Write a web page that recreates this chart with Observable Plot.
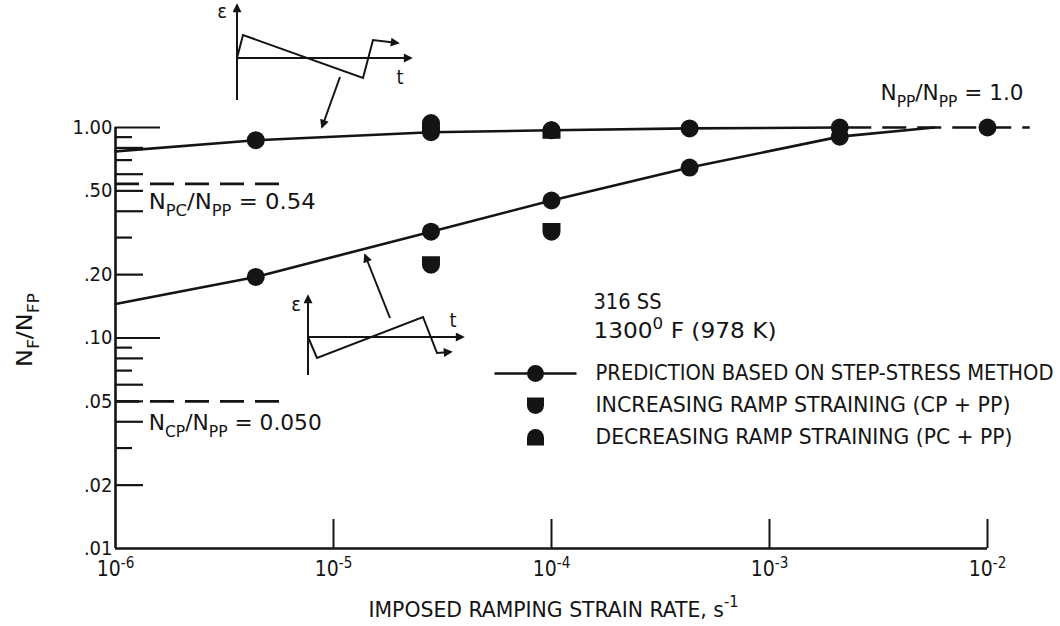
<!DOCTYPE html>
<html><head><meta charset="utf-8">
<script src="https://cdn.jsdelivr.net/npm/d3@7"></script>
<script src="https://cdn.jsdelivr.net/npm/@observablehq/plot@0.6"></script>
<style>
html,body{margin:0;padding:0;background:#fff;}
#chart{width:1060px;height:626px;}
</style></head>
<body><div id="chart"></div>
<script>
// ---------------- data ----------------
const xTicks = [1e-6, 1e-5, 1e-4, 1e-3, 1e-2];
const xTickLabels = ["10^{-6}", "10^{-5}", "10^{-4}", "10^{-3}", "10^{-2}"];
const yMajor = [1, 0.5, 0.2, 0.1, 0.05, 0.02, 0.01];
const yMajorLabels = ["1.00", ".50", ".20", ".10", ".05", ".02", ".01"];
const yTickLong = [1, 0.1];
const yTickMed = [0.8, 0.6, 0.5, 0.4, 0.2, 0.08, 0.06, 0.05, 0.04, 0.02];
const yTickShort = [0.9, 0.7, 0.3, 0.09, 0.07, 0.03];

// prediction (step-stress) curves
const pcCurveRate = [1e-6, 4.4e-6, 2.8e-5, 1e-4, 4.3e-4, 2.1e-3];
const pcCurveNf   = [0.77, 0.87, 0.95, 0.97, 0.99, 1.0];
const cpCurveRate = [1e-6, 4.4e-6, 2.8e-5, 1e-4, 4.3e-4, 2.1e-3, 5.7e-3];
const cpCurveNf   = [0.145, 0.195, 0.32, 0.45, 0.645, 0.905, 1.0];
// prediction points
const pcPointRate = [4.4e-6, 2.8e-5, 1e-4, 4.3e-4, 2.1e-3, 1e-2];
const pcPointNf   = [0.87, 0.95, 0.97, 0.99, 1.0, 1.0];
const cpPointRate = [4.4e-6, 2.8e-5, 1e-4, 4.3e-4, 2.1e-3];
const cpPointNf   = [0.195, 0.32, 0.45, 0.645, 0.905];
// experiments
const incRate = [2.8e-5, 1e-4];
const incNf   = [0.223, 0.32];
const decRate = [2.8e-5, 1e-4];
const decNf   = [1.05, 0.97];
// limits
const limitPC = 0.54, limitCP = 0.050, limitPP = 1.0;
const limitPCRange = [1e-6, 6.35e-6];
const limitCPRange = [1e-6, 5.7e-6];
const limitPPRange = [2.1e-3, 1.57e-2];

const legendItems = [
  "PREDICTION BASED ON STEP-STRESS METHOD",
  "INCREASING RAMP STRAINING (CP + PP)",
  "DECREASING RAMP STRAINING (PC + PP)"
];
const materialText = ["316 SS", "1300^{0} F (978 K)"];
const limitLabels = ["N_{PC}/N_{PP} = 0.54", "N_{CP}/N_{PP} = 0.050", "N_{PP}/N_{PP} = 1.0"];
const xTitle = "IMPOSED RAMPING STRAIN RATE, s^{-1}";
const yTitle = "N_{F}/N_{FP}";

// ---------------- layout ----------------
const W = 1060, H = 626, mL = 115, mR = 73, mT = 127, mB = 78;
const innerW = W - mL - mR, innerH = H - mT - mB;
const FONT = '"Liberation Sans Narrow","DejaVu Sans Condensed","Arial Narrow","Liberation Sans",sans-serif';
const INK = "#141414";
// widths (px) of texts as lettered in the reference
const textWidths = new Map([
  [legendItems[0], 458], [legendItems[1], 415], [legendItems[2], 417],
  [materialText[0], 68], [materialText[1], 183],
  [limitLabels[0], 167], [limitLabels[1], 173], [limitLabels[2], 143],
  [xTitle, 370], [yTitle, 74]
]);

const pts = (xs, ys) => xs.map((x, i) => ({x, y: ys[i]}));

// custom symbols
const symCircle = {draw(c, size){ const r = Math.sqrt(size/Math.PI); c.moveTo(r,0); c.arc(0,0,r,0,2*Math.PI); c.closePath(); }};
const symFlatTop = {draw(c, size){ const r = Math.sqrt(size/Math.PI); const h = r*0.95;
  c.moveTo(-r,-h); c.lineTo(r,-h); c.lineTo(r,0); c.arc(0,0,r,0,Math.PI); c.closePath(); }};
const symFlatBottom = {draw(c, size){ const r = Math.sqrt(size/Math.PI); const h = r*0.95;
  c.moveTo(r,h); c.lineTo(-r,h); c.lineTo(-r,0); c.arc(0,0,r,Math.PI,2*Math.PI); c.closePath(); }};
const symLegendLine = {draw(c, size){ const r = Math.sqrt(size/Math.PI);
  c.moveTo(-41,-1.3); c.lineTo(41,-1.3); c.lineTo(41,1.3); c.lineTo(-41,1.3); c.closePath();
  c.moveTo(r,0); c.arc(0,0,r,0,2*Math.PI); c.closePath(); }};

const tickLen = (vals, len) => Plot.tickY(vals, {y: d => d, insetRight: innerW - len, stroke: INK, strokeWidth: 2.2});
const frameText = (s, dx, dy, fontSize) => Plot.text([s], {frameAnchor: "top-left", dx, dy, textAnchor: "start", lineAnchor: "middle", fontSize, fill: INK});

const plot = Plot.plot({
  width: W, height: H,
  marginLeft: mL, marginRight: mR, marginTop: mT, marginBottom: mB,
  style: {fontFamily: FONT, background: "white", color: INK, overflow: "visible"},
  x: {type: "log", domain: [1e-6, 1e-2]},
  y: {type: "log", domain: [0.01, 1]},
  marks: [
    // axes labels
    Plot.axisX(xTicks, {tickSize: 0, tickPadding: 13, fontSize: 21, label: null,
      tickFormat: d => xTickLabels[xTicks.indexOf(d)]}),
    Plot.axisY(yMajor, {tickSize: 0, tickPadding: 3, fontSize: 20, label: null,
      tickFormat: d => yMajorLabels[yMajor.indexOf(d)]}),
    // frame lines
    Plot.ruleX([1e-6], {stroke: INK, strokeWidth: 2.6}),
    Plot.ruleY([0.01], {stroke: INK, strokeWidth: 2.6}),
    // inward ticks
    Plot.tickX(xTicks.slice(1), {x: d => d, insetTop: innerH - 29, stroke: INK, strokeWidth: 2}),
    tickLen(yTickLong, 45),
    tickLen(yTickMed, 28),
    tickLen(yTickShort, 17),
    // limit dashed lines
    Plot.ruleY([limitPC], {x1: limitPCRange[0], x2: limitPCRange[1], stroke: INK, strokeWidth: 2.6, strokeDasharray: "24,11"}),
    Plot.ruleY([limitCP], {x1: limitCPRange[0], x2: limitCPRange[1], stroke: INK, strokeWidth: 2.6, strokeDasharray: "24,11"}),
    Plot.ruleY([limitPP], {x1: limitPPRange[0], x2: limitPPRange[1], stroke: INK, strokeWidth: 2.6, strokeDasharray: "24,11", strokeDashoffset: -8}),
    // prediction curves
    Plot.line(pts(pcCurveRate, pcCurveNf), {x: "x", y: "y", stroke: INK, strokeWidth: 2.6}),
    Plot.line(pts(cpCurveRate, cpCurveNf), {x: "x", y: "y", stroke: INK, strokeWidth: 2.6}),
    // experiments
    Plot.dot(pts(decRate, decNf), {x: "x", y: "y", r: 9, symbol: symFlatBottom, fill: INK, stroke: "none"}),
    Plot.dot(pts(incRate, incNf), {x: "x", y: "y", r: 9, symbol: symFlatTop, fill: INK, stroke: "none"}),
    // prediction points
    Plot.dot(pts(pcPointRate, pcPointNf), {x: "x", y: "y", r: 9, symbol: symCircle, fill: INK, stroke: "none"}),
    Plot.dot(pts(cpPointRate, cpPointNf), {x: "x", y: "y", r: 9, symbol: symCircle, fill: INK, stroke: "none"}),
    // limit annotations
    Plot.text([limitLabels[0]], {x: 1.42e-6, y: 0.44, textAnchor: "start", fontSize: 21, fill: INK}),
    Plot.text([limitLabels[1]], {x: 1.42e-6, y: 0.0393, textAnchor: "start", fontSize: 21, fill: INK}),
    Plot.text([limitLabels[2]], {x: 3.23e-3, y: 1.45, textAnchor: "start", fontSize: 21, fill: INK}),
    // material
    frameText(materialText[0], 478, 175, 21),
    frameText(materialText[1], 478, 204, 21),
    // legend
    Plot.dot([0], {frameAnchor: "top-left", dx: 420, dy: 246, r: 8.5, symbol: symLegendLine, fill: INK, stroke: "none"}),
    Plot.dot([0], {frameAnchor: "top-left", dx: 420, dy: 278, r: 8.5, symbol: symFlatTop, fill: INK, stroke: "none"}),
    Plot.dot([0], {frameAnchor: "top-left", dx: 420, dy: 310, r: 8.5, symbol: symFlatBottom, fill: INK, stroke: "none"}),
    frameText(legendItems[0], 480, 246, 21.5),
    frameText(legendItems[1], 480, 278, 21.5),
    frameText(legendItems[2], 480, 310, 21.5),
    // axis titles
    Plot.text([xTitle], {frameAnchor: "bottom", dx: 2, dy: 61, textAnchor: "middle", lineAnchor: "middle", fontSize: 22, fill: INK}),
    Plot.text([yTitle], {frameAnchor: "left", dx: -90, dy: -8, rotate: -90, textAnchor: "middle", lineAnchor: "middle", fontSize: 21, fill: INK})
  ]
});

document.getElementById("chart").appendChild(plot);

// ---------- sub/superscript rendering + reference widths ----------
const SVGNS = "http://www.w3.org/2000/svg";
plot.querySelectorAll("text").forEach(el => {
  const s = el.textContent;
  if (/[\^_]\{/.test(s)) {
    const fs = parseFloat(getComputedStyle(el).fontSize) || 16;
    while (el.firstChild) el.removeChild(el.firstChild);
    const re = /([\^_])\{([^}]*)\}/g; let last = 0, m; const parts = [];
    while ((m = re.exec(s))) {
      if (m.index > last) parts.push({t: s.slice(last, m.index), k: 0});
      parts.push({t: m[2], k: m[1] === "^" ? -1 : 1});
      last = re.lastIndex;
    }
    if (last < s.length) parts.push({t: s.slice(last), k: 0});
    let shift = 0;
    for (const p of parts) {
      const ts = document.createElementNS(SVGNS, "tspan");
      const target = p.k === 0 ? 0 : (p.k < 0 ? -0.42 * fs : 0.32 * fs);
      if (target !== shift) ts.setAttribute("dy", target - shift);
      shift = target;
      if (p.k !== 0) ts.setAttribute("font-size", (0.72 * fs).toFixed(1));
      ts.textContent = p.t;
      el.appendChild(ts);
    }
  }
  if (textWidths.has(s)) {
    el.setAttribute("textLength", textWidths.get(s));
    el.setAttribute("lengthAdjust", "spacingAndGlyphs");
  }
});

// ---------- strain-time waveform insets ----------
const insets = [
  {ox: 122, oy: -69, axes: [[[0,42],[0,-53]], [[0,0],[174,0]]],
   wave: [[0,0],[6,-23],[126,20],[136,-18],[161,-15]], eps: [-15,-40], t: [163,26],
   pointer: [[103,19],[85,69]]},
  {ox: 193, oy: 210, axes: [[[0,38],[0,-41]], [[0,0],[155,0]]],
   wave: [[0,0],[9,21],[115,-20],[129,16],[143,15]], eps: [-12,-26], t: [145,-10],
   pointer: [[82,-19],[57,-82]]}
];
const svg = d3.select(plot);
const defs = svg.append("defs");
defs.append("marker").attr("id", "ah").attr("viewBox", "0 0 10 10")
  .attr("refX", 8).attr("refY", 5).attr("markerWidth", 5).attr("markerHeight", 4.5)
  .attr("orient", "auto").attr("markerUnits", "strokeWidth")
  .append("path").attr("d", "M0,0L10,5L0,10z").attr("fill", INK);
const ln = d3.line();
for (const ins of insets) {
  const g = svg.append("g").attr("transform", `translate(${mL + ins.ox},${mT + ins.oy})`)
    .attr("fill", "none").attr("stroke", INK).attr("stroke-width", 2);
  for (const a of ins.axes) g.append("path").attr("d", ln(a)).attr("marker-end", "url(#ah)");
  g.append("path").attr("d", ln(ins.wave)).attr("marker-end", "url(#ah)").attr("stroke-linejoin", "miter");
  g.append("path").attr("d", ln(ins.pointer)).attr("marker-end", "url(#ah)");
  g.append("text").attr("x", ins.eps[0]).attr("y", ins.eps[1]).attr("stroke", "none").attr("fill", INK)
    .attr("font-family", FONT).attr("font-size", 20).attr("text-anchor", "middle").text("ε");
  g.append("text").attr("x", ins.t[0]).attr("y", ins.t[1]).attr("stroke", "none").attr("fill", INK)
    .attr("font-family", FONT).attr("font-size", 20).attr("text-anchor", "middle").text("t");
}
</script>
</body></html>
